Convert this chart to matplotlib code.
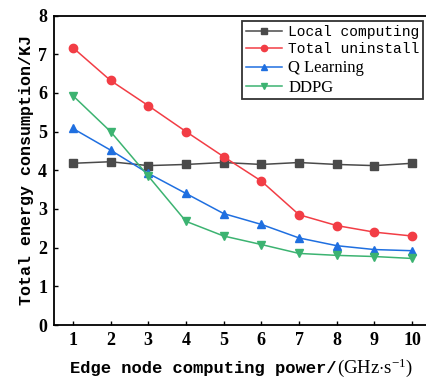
import matplotlib
matplotlib.use("Agg")
import matplotlib.pyplot as plt

x = [1, 2, 3, 4, 5, 6, 7, 8, 9, 10]
local_computing = [4.18, 4.22, 4.12, 4.15, 4.20, 4.15, 4.20, 4.15, 4.12, 4.18]
total_uninstall = [7.17, 6.32, 5.67, 5.00, 4.35, 3.72, 2.85, 2.57, 2.40, 2.30]
q_learning = [5.08, 4.52, 3.92, 3.40, 2.88, 2.60, 2.25, 2.05, 1.95, 1.92]
ddpg = [5.93, 5.00, 3.85, 2.68, 2.30, 2.08, 1.85, 1.80, 1.77, 1.72]
labels = ["Local computing", "Total uninstall", "Q Learning", "DDPG"]
xticks = [1, 2, 3, 4, 5, 6, 7, 8, 9, 10]
yticks = [0, 1, 2, 3, 4, 5, 6, 7, 8]

plt.rcParams['mathtext.fontset'] = 'custom'
plt.rcParams['mathtext.rm'] = 'Liberation Serif'
plt.rcParams['mathtext.it'] = 'Liberation Serif:italic'

W, H = 427, 381
fig = plt.figure(figsize=(W / 100, H / 100), dpi=100)
left, bottom, top = 54 / W, 1 - 325 / H, 1 - 15.5 / H
ax = fig.add_axes([left, bottom, 377 / W, top - bottom])

series = [local_computing, total_uninstall, q_learning, ddpg]
colors = ['#4a4a4a', '#f23d45', '#1f6fe0', '#3cb371']
markers = ['s', 'o', '^', 'v']
handles = []
for ys, c, m, lab in zip(series, colors, markers, labels):
    h, = ax.plot(x, ys, color=c, marker=m, markersize=6, linewidth=1.1, label=lab)
    handles.append(h)

ax.set_xlim(0.5, 10.5)
ax.set_ylim(0, 8)
ax.set_xticks(xticks)
ax.set_yticks(yticks)
ax.tick_params(direction='in', length=3, width=1, pad=5)
for lbl in ax.get_xticklabels() + ax.get_yticklabels():
    lbl.set_fontfamily('Liberation Serif')
    lbl.set_fontweight('bold')
    lbl.set_fontsize(13)
for s in ax.spines.values():
    s.set_linewidth(1.3)

ax.set_ylabel("Total energy consumption/KJ", family='Liberation Mono',
              fontweight='bold', fontsize=12, labelpad=3)

fig.text(337 / W, 1 - 373 / H, "Edge node computing power/", family='Liberation Mono',
         fontweight='bold', fontsize=12.3, ha='right', va='baseline')
fig.text(337 / W, 1 - 373 / H, r"$\mathrm{(GHz{\cdot}s^{-1})}$", fontsize=13.5,
         ha='left', va='baseline')

leg = fig.legend(handles=handles, loc='upper right',
                 bbox_to_anchor=(423 / W, 1 - 21 / H), fontsize=10.5,
                 frameon=True, fancybox=False, handlelength=2.5,
                 handletextpad=0.4, labelspacing=0.25, borderpad=0.25,
                 borderaxespad=0, markerscale=0.75)
leg.get_frame().set_edgecolor('black')
leg.get_frame().set_linewidth(1.3)
for i, t in enumerate(leg.get_texts()):
    if i < 2:
        t.set_fontfamily('Liberation Mono')
    else:
        t.set_fontfamily('Liberation Serif')
        t.set_fontsize(12)

fig.savefig("out.png", dpi=100)
